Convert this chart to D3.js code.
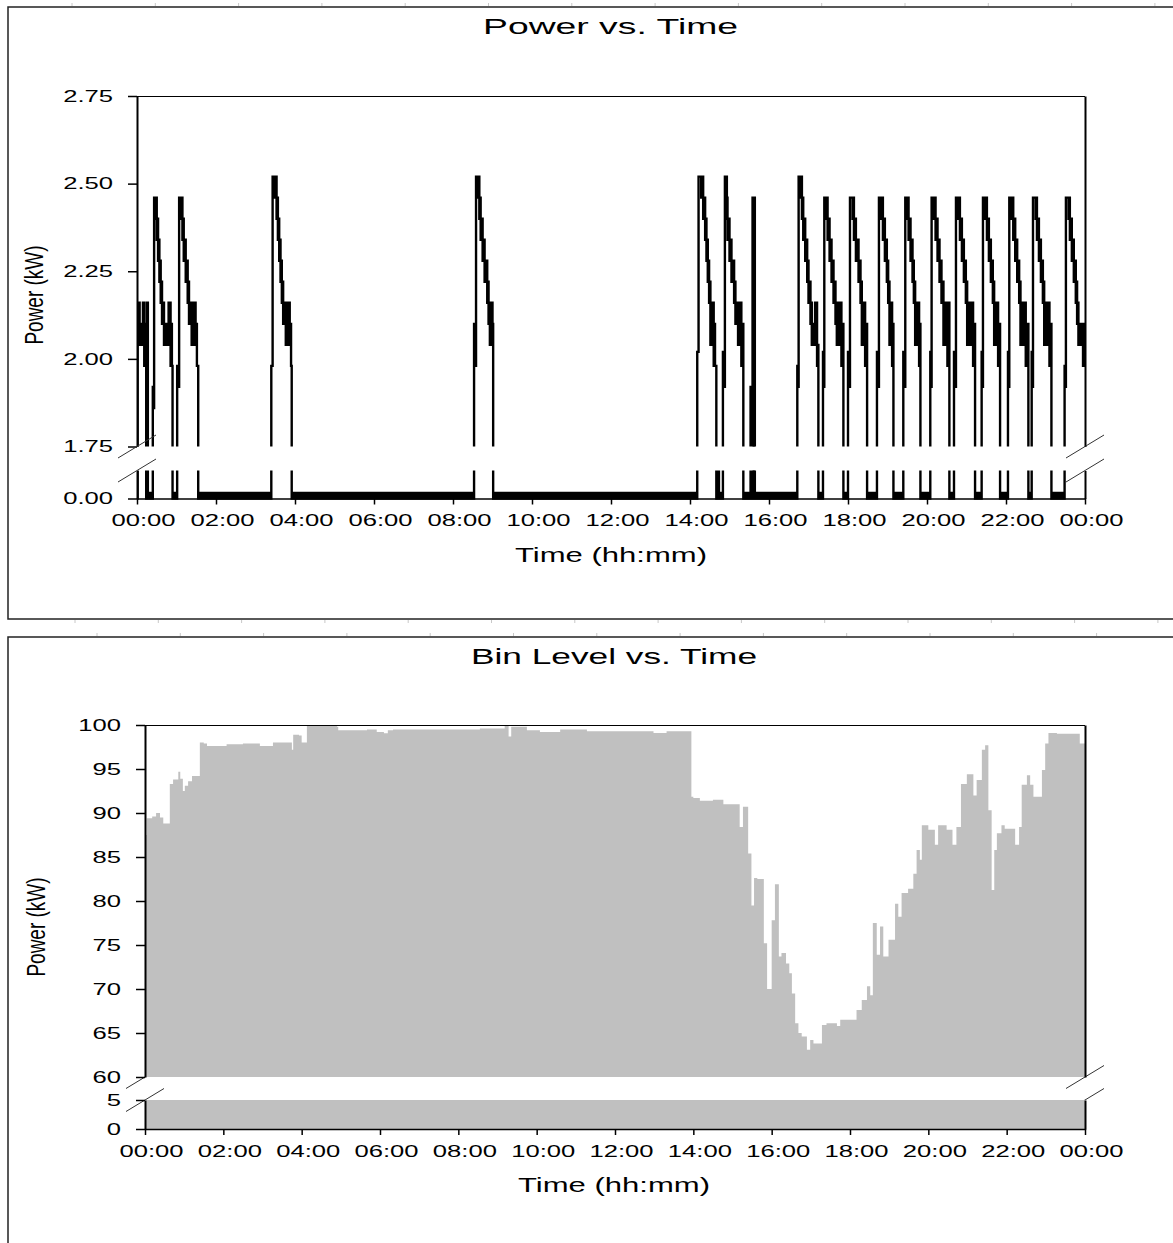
<!DOCTYPE html>
<html lang="en">
<head>
<meta charset="utf-8">
<title>Power and Bin Level vs. Time</title>
<script src="https://cdn.jsdelivr.net/npm/d3@7"></script>
<style>
  body { margin: 0; background: #fff; }
  svg { display: block; }
</style>
</head>
<body>
<script>

//*************************************************************************//
// Data

// tick positions (minutes after midnight) and their labels
var timeTicks = [0, 120, 240, 360, 480, 600, 720, 840, 960, 1080, 1200, 1320, 1440];
var timeLabels = ["00:00", "02:00", "04:00", "06:00", "08:00", "10:00", "12:00",
                  "14:00", "16:00", "18:00", "20:00", "22:00", "00:00"];

var powerTicksHigh = [1.75, 2.00, 2.25, 2.50, 2.75];
var powerTicksLow = [0];
var binTicksHigh = [60, 65, 70, 75, 80, 85, 90, 95, 100];
var binTicksLow = [0, 5];

// power steps: [minute, low kW, high kW] (low != high where the trace is a noisy band)
var powerSteps = [
  [0, 0, 0.04], [1, 2.16, 2.16], [4, 2.04, 2.10], [9, 2.04, 2.16], [11, 1.98, 2.10],
  [13, 1.98, 1.98], [14, 0, 0.04], [15, 2.16, 2.16], [16.5, 0, 0.04],
  [24, 1.86, 1.92], [26, 2.46, 2.46], [28, 2.40, 2.46], [30, 2.34, 2.40], [32, 2.28, 2.34],
  [34, 2.22, 2.28], [36, 2.16, 2.22], [38, 2.10, 2.16], [41, 2.04, 2.10], [48, 2.04, 2.16],
  [51, 1.98, 2.10], [53, 1.98, 1.98], [54, 0, 0.04],
  [61, 1.92, 1.98], [64, 2.46, 2.46], [67, 2.40, 2.46], [69, 2.34, 2.40], [71, 2.28, 2.34],
  [74, 2.22, 2.28], [77, 2.16, 2.22], [79, 2.10, 2.16], [83, 2.04, 2.16], [89, 2.04, 2.10],
  [91, 1.98, 1.98], [93, 0, 0.04],
  [204, 1.98, 1.98], [206, 2.52, 2.52], [209, 2.46, 2.52], [212, 2.40, 2.46], [214, 2.34, 2.40],
  [216, 2.28, 2.34], [218, 2.22, 2.28], [220, 2.16, 2.22], [222, 2.10, 2.16], [226, 2.04, 2.16],
  [232, 2.04, 2.10], [234, 1.98, 1.98], [235, 0, 0.04],
  [512, 1.98, 2.10], [515, 2.52, 2.52], [518, 2.46, 2.52], [520, 2.40, 2.46], [522, 2.34, 2.40],
  [525, 2.28, 2.34], [528, 2.22, 2.28], [532, 2.16, 2.22], [534, 2.10, 2.16], [536, 2.04, 2.16],
  [540, 2.04, 2.10], [541, 0, 0.04],
  [851, 2.02, 2.02], [853, 2.52, 2.52], [857, 2.46, 2.52], [860, 2.40, 2.46], [863, 2.34, 2.40],
  [865, 2.28, 2.34], [867, 2.22, 2.28], [869, 2.16, 2.22], [871, 2.04, 2.16], [876, 1.98, 2.10],
  [878, 1.98, 1.98], [880, 0, 0.04], [883, 0.6, 0.6], [884, 0, 0.04],
  [890, 1.92, 2.02], [893, 2.52, 2.52], [895, 2.46, 2.52], [896, 2.40, 2.46], [897, 2.34, 2.40],
  [900, 2.28, 2.34], [903, 2.22, 2.28], [907, 2.16, 2.22], [909, 2.10, 2.16], [913, 2.04, 2.16],
  [918, 1.98, 2.10], [921, 0, 0.04],
  [932, 1.92, 1.92], [933, 0, 0.04], [935, 0, 2.46], [938.5, 0, 0.04],
  [1003, 1.92, 1.98], [1005, 2.52, 2.52], [1008, 2.46, 2.52], [1010, 2.40, 2.46], [1012, 2.34, 2.40],
  [1015, 2.28, 2.34], [1018, 2.22, 2.28], [1020, 2.16, 2.22], [1023, 2.10, 2.16], [1025, 2.04, 2.10],
  [1030, 2.04, 2.16], [1033, 1.98, 2.04], [1035, 0, 0.04],
  [1042, 1.92, 2.02], [1044, 2.46, 2.46], [1047, 2.40, 2.46], [1049, 2.34, 2.40], [1052, 2.28, 2.34],
  [1055, 2.22, 2.28], [1058, 2.16, 2.22], [1061, 2.10, 2.16], [1063, 2.04, 2.16], [1070, 1.98, 2.10],
  [1073, 0, 0.04],
  [1080, 1.92, 2.02], [1083, 2.46, 2.46], [1087, 2.40, 2.46], [1089, 2.34, 2.40], [1092, 2.28, 2.34],
  [1096, 2.22, 2.28], [1099, 2.16, 2.22], [1101, 2.04, 2.16], [1106, 1.98, 2.10], [1109, 0, 0.04],
  [1124, 1.92, 2.02], [1127, 2.46, 2.46], [1130, 2.40, 2.46], [1133, 2.34, 2.40], [1136, 2.28, 2.34],
  [1139, 2.22, 2.28], [1141, 2.16, 2.22], [1143, 2.04, 2.16], [1147, 1.98, 2.10], [1149, 0, 0.04],
  [1164, 1.92, 2.02], [1167, 2.46, 2.46], [1170, 2.40, 2.46], [1172, 2.34, 2.40], [1175, 2.28, 2.34],
  [1178, 2.22, 2.28], [1180, 2.16, 2.22], [1182, 2.04, 2.16], [1188, 1.98, 2.10], [1190, 0, 0.04],
  [1205, 1.92, 2.02], [1207, 2.46, 2.46], [1210, 2.40, 2.46], [1213, 2.34, 2.40], [1216, 2.28, 2.34],
  [1219, 2.22, 2.28], [1222, 2.16, 2.22], [1225, 2.04, 2.16], [1231, 1.98, 2.16], [1234, 0, 0.04],
  [1241, 1.92, 2.02], [1244, 2.46, 2.46], [1247, 2.40, 2.46], [1250, 2.34, 2.40], [1253, 2.28, 2.34],
  [1256, 2.22, 2.28], [1259, 2.16, 2.22], [1261, 2.04, 2.16], [1270, 1.98, 2.10], [1273, 0, 0.04],
  [1283, 1.92, 2.02], [1285, 2.46, 2.46], [1288, 2.40, 2.46], [1291, 2.34, 2.40], [1294, 2.28, 2.34],
  [1297, 2.22, 2.28], [1300, 2.16, 2.22], [1302, 2.04, 2.16], [1308, 1.98, 2.10], [1311, 0, 0.04],
  [1323, 1.92, 2.02], [1325, 2.46, 2.46], [1328, 2.40, 2.46], [1331, 2.34, 2.40], [1334, 2.28, 2.34],
  [1337, 2.22, 2.28], [1340, 2.16, 2.22], [1342, 2.04, 2.16], [1350, 1.98, 2.10], [1354, 0, 0.04],
  [1359, 1.92, 2.02], [1361, 2.46, 2.46], [1365, 2.40, 2.46], [1367, 2.34, 2.40], [1370, 2.28, 2.34],
  [1373, 2.22, 2.28], [1376, 2.16, 2.22], [1378, 2.04, 2.16], [1386, 1.98, 2.10], [1389, 0, 0.04],
  [1409, 1.92, 1.98], [1411, 2.46, 2.46], [1415, 2.40, 2.46], [1417, 2.34, 2.40], [1420, 2.28, 2.34],
  [1423, 2.22, 2.28], [1426, 2.16, 2.22], [1428, 2.10, 2.16], [1430, 2.04, 2.10], [1437, 1.98, 2.10],
  [1440, 1.98, 1.98]
];

// bin level steps: [minute, level]
var binLevel = [
  [0, 87.5], [2.6, 89.4], [11, 89.6], [17, 90.0], [23, 89.5], [28, 88.8], [38, 93.3], [43, 93.8],
  [51, 94.7], [54, 93.9], [58, 92.5], [61, 93.1], [66, 93.6], [72, 94.2], [84, 98.0], [90, 97.9],
  [95, 97.6], [125, 97.8], [150, 97.9], [176, 97.6], [196, 98.0], [225, 97.2], [227, 98.9],
  [236, 98.8], [240, 98.0], [248, 100.0], [270, 99.9], [294, 99.8], [296, 99.4], [340, 99.5],
  [355, 99.2], [366, 99.05], [372, 99.4], [380, 99.5], [513, 99.6], [551, 99.9], [557, 98.7],
  [561, 99.8], [585, 99.4], [605, 99.2], [636, 99.5], [677, 99.3], [779, 99.1], [799, 99.3],
  [837, 91.85], [840, 91.7], [850, 91.4], [870, 91.5], [886, 91.0], [911, 88.4], [916, 90.7],
  [924, 85.4], [929, 79.5], [933, 82.6], [938, 82.5], [948, 75.2], [953, 70.0], [960, 77.8],
  [965, 81.9], [971, 73.7], [975, 74.1], [982, 72.9], [987, 71.8], [991, 69.5], [996, 66.1],
  [1001, 65.0], [1006, 64.6], [1014, 63.1], [1019, 64.2], [1024, 63.8], [1037, 65.9], [1044, 66.1],
  [1060, 65.8], [1065, 66.5], [1090, 67.6], [1098, 68.75], [1106, 70.3], [1111, 69.3], [1115, 77.5],
  [1121, 73.9], [1126, 77.1], [1131, 73.7], [1139, 75.6], [1149, 79.7], [1154, 78.2], [1159, 80.9],
  [1169, 81.4], [1177, 83.1], [1182, 85.8], [1187, 84.7], [1190, 88.6], [1200, 88.1], [1210, 86.4],
  [1215, 88.6], [1228, 88.1], [1237, 86.4], [1243, 88.4], [1250, 93.3], [1259, 94.4], [1269, 92.0],
  [1274, 93.75], [1282, 97.2], [1287, 97.7], [1292, 90.3], [1297, 81.25], [1301, 85.8], [1305, 87.7],
  [1312, 88.6], [1317, 88.2], [1333, 86.4], [1339, 88.4], [1343, 93.2], [1351, 94.3], [1356, 93.2],
  [1361, 91.85], [1374, 94.9], [1379, 97.9], [1384, 99.1], [1397, 99.0], [1432, 97.9], [1440, 97.9]
];

//*************************************************************************//
// Canvas

var FONT = "'Liberation Sans', Arial, Helvetica, sans-serif";
var STRETCH = 1.6;   // the original is drawn with wide, horizontally stretched lettering

var svg = d3.select("body")
            .append("svg")
            .attr("width", 1173)
            .attr("height", 1243);

svg.append("rect").attr("width", 1173).attr("height", 1243).attr("fill", "#fff");

// panel frames
svg.append("rect")
    .attr("x", 8).attr("y", 7).attr("width", 1200).attr("height", 612)
    .attr("fill", "none").attr("stroke", "#222").attr("stroke-width", 1.5);
svg.append("rect")
    .attr("x", 8).attr("y", 637).attr("width", 1200).attr("height", 700)
    .attr("fill", "none").attr("stroke", "#222").attr("stroke-width", 1.5);

// faint ruler marks along the frame edges
var marks = svg.append("g").attr("stroke", "#c8c8c8").attr("stroke-width", 1);
d3.range(72, 1173, 83.3).forEach(function(x){
    marks.append("line").attr("x1", x).attr("x2", x).attr("y1", 3).attr("y2", 6);
});
d3.range(75, 1173, 83.3).forEach(function(x){
    marks.append("line").attr("x1", x).attr("x2", x).attr("y1", 620).attr("y2", 623);
});
d3.range(97, 1173, 83.3).forEach(function(x){
    marks.append("line").attr("x1", x).attr("x2", x).attr("y1", 633).attr("y2", 636);
});

//*************************************************************************//
// Helpers

function stretchedText(sel, x, y, size, length, str) {
    return sel.append("text")
        .attr("x", x).attr("y", y)
        .attr("font-family", FONT)
        .attr("font-size", size)
        .attr("textLength", length)
        .attr("lengthAdjust", "spacingAndGlyphs")
        .attr("fill", "#000")
        .text(str);
}

function slash(g, cx, cy) {
    g.append("line")
        .attr("x1", cx - 19).attr("y1", cy + 11.5)
        .attr("x2", cx + 19).attr("y2", cy - 11.5)
        .attr("stroke", "#333").attr("stroke-width", 1);
}

function styleAxis(a, domainWidth) {
    a.attr("font-family", FONT).attr("font-size", 16);
    a.select(".domain").attr("stroke", "#000").attr("stroke-width", domainWidth);
    a.selectAll(".tick line").attr("stroke", "#000").attr("stroke-width", 1.5);
    a.selectAll(".tick text").attr("fill", "#000");
}

function drawAxes(g, x, yHi, yLo, hiTicks, loTicks, fmt) {
    var x0 = x.range()[0], x1 = x.range()[1];

    var xa = g.append("g")
        .attr("transform", "translate(0," + yLo.range()[0] + ")")
        .call(d3.axisBottom(x).tickValues(timeTicks)
              .tickFormat(function(d, i){ return timeLabels[i]; })
              .tickSize(6).tickSizeOuter(0));
    styleAxis(xa, 1.5);
    xa.selectAll(".tick text")
        .attr("y", 28).attr("dy", "0")
        .attr("x", 6 / STRETCH)
        .attr("transform", "scale(" + STRETCH + ",1)");

    [yHi, yLo].forEach(function(y, k){
        var ya = g.append("g")
            .attr("transform", "translate(" + x0 + ",0)")
            .call(d3.axisLeft(y).tickValues(k === 0 ? hiTicks : loTicks)
                  .tickFormat(fmt).tickSize(9).tickSizeOuter(0));
        styleAxis(ya, 2);
        ya.selectAll(".tick text")
            .attr("x", -24 / STRETCH)
            .attr("transform", "scale(" + STRETCH + ",1)");

        var ra = g.append("g")
            .attr("transform", "translate(" + x1 + ",0)")
            .call(d3.axisRight(y).tickValues([]).tickSizeOuter(0));
        styleAxis(ra, 2);
    });

    g.append("line")
        .attr("x1", x0).attr("x2", x1)
        .attr("y1", yHi.range()[1] + 0.5).attr("y2", yHi.range()[1] + 0.5)
        .attr("stroke", "#000").attr("stroke-width", 1.2);
}

function clipRect(id, x, y0, y1) {
    svg.append("clipPath").attr("id", id)
        .append("rect")
        .attr("x", x.range()[0]).attr("width", x.range()[1] - x.range()[0])
        .attr("y", y0).attr("height", y1 - y0);
    return "url(#" + id + ")";
}

//*************************************************************************//
// Power vs. Time

var xP = d3.scaleLinear().domain([0, 1440]).range([137, 1085]);
var yPHi = d3.scaleLinear().domain([1.75, 2.75]).range([446.5, 96]);
var yPLo = d3.scaleLinear().domain([0, 0.2]).range([498.5, 470.5]);

var gP = svg.append("g");

[[yPHi, clipRect("clipPHi", xP, 96, 446.5)], [yPLo, clipRect("clipPLo", xP, 470.5, 500)]].forEach(function(p){
    var y = p[0];
    var area = d3.area()
        .curve(d3.curveStepAfter)
        .x(function(d){ return xP(d[0]); })
        .y0(function(d){ return y(d[1]); })
        .y1(function(d){ return y(d[2]); });
    gP.append("path")
        .datum(powerSteps)
        .attr("clip-path", p[1])
        .attr("d", area)
        .attr("fill", "#000")
        .attr("stroke", "#000")
        .attr("stroke-width", 2.4);
});

drawAxes(gP, xP, yPHi, yPLo, powerTicksHigh, powerTicksLow, d3.format(".2f"));

[xP.range()[0], xP.range()[1]].forEach(function(cx){
    slash(gP, cx, yPHi.range()[0]);
    slash(gP, cx, yPLo.range()[1]);
});

stretchedText(svg, 483, 34, 22, 255, "Power vs. Time");
stretchedText(svg, 515, 562, 19.5, 192, "Time (hh:mm)");
svg.append("text")
    .attr("transform", "translate(42.5,295) scale(1.35,1) rotate(-90)")
    .attr("text-anchor", "middle")
    .attr("font-family", FONT)
    .attr("font-size", 19)
    .attr("fill", "#000")
    .text("Power (kW)");

//*************************************************************************//
// Bin Level vs. Time

var xB = d3.scaleLinear().domain([0, 1440]).range([145, 1085]);
var yBHi = d3.scaleLinear().domain([60, 100]).range([1077, 725]);
var yBLo = d3.scaleLinear().domain([0, 5]).range([1129, 1100]);

var gB = svg.append("g");

[xB.range()[0], xB.range()[1]].forEach(function(cx){
    slash(gB, cx, yBHi.range()[0]);
    slash(gB, cx, yBLo.range()[1]);
});

[[yBHi, clipRect("clipBHi", xB, 725, 1077)], [yBLo, clipRect("clipBLo", xB, 1100, 1129)]].forEach(function(p){
    var y = p[0];
    var area = d3.area()
        .curve(d3.curveStepAfter)
        .x(function(d){ return xB(d[0]); })
        .y0(y(0))
        .y1(function(d){ return y(d[1]); });
    gB.append("path")
        .datum(binLevel)
        .attr("clip-path", p[1])
        .attr("d", area)
        .attr("fill", "#c0c0c0");
});

drawAxes(gB, xB, yBHi, yBLo, binTicksHigh, binTicksLow, d3.format("d"));

stretchedText(svg, 471, 664, 22, 286, "Bin Level vs. Time");
stretchedText(svg, 518, 1192, 19.5, 192, "Time (hh:mm)");
svg.append("text")
    .attr("transform", "translate(44.5,927) scale(1.35,1) rotate(-90)")
    .attr("text-anchor", "middle")
    .attr("font-family", FONT)
    .attr("font-size", 19)
    .attr("fill", "#000")
    .text("Power (kW)");

</script>
</body>
</html>
